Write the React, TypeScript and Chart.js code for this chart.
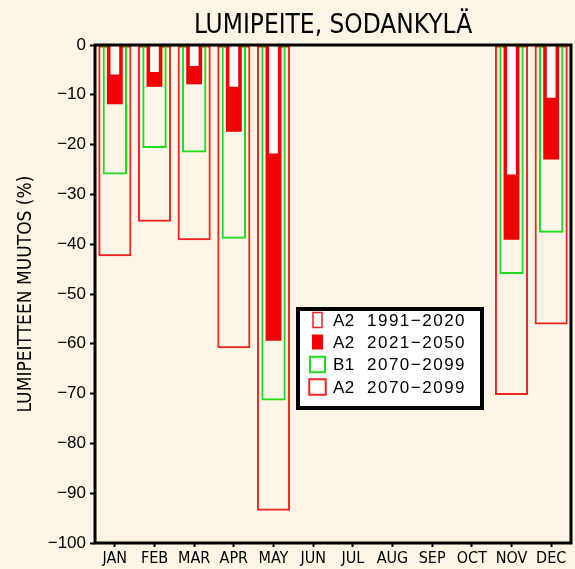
import React, { useEffect, useRef } from "react";
import { Chart, registerables } from "chart.js";

Chart.register(...registerables);

const months = ["JAN", "FEB", "MAR", "APR", "MAY", "JUN", "JUL", "AUG", "SEP", "OCT", "NOV", "DEC"];
const a2Past = [-6.1, -5.6, -4.4, -8.6, -22.0, null, null, null, null, null, -26.2, -10.8];
const a2Mid = [-11.9, -8.4, -7.9, -17.4, -59.4, null, null, null, null, null, -39.1, -23.0];
const b1Late = [-26.0, -20.7, -21.6, -38.9, -71.4, null, null, null, null, null, -46.0, -37.7];
const a2Late = [-42.4, -35.5, -39.2, -60.9, -93.5, null, null, null, null, null, -70.3, -56.1];
const seriesScenario = ["A2", "A2", "B1", "A2"];
const seriesPeriod = ["1991\u22122020", "2021\u22122050", "2070\u22122099", "2070\u22122099"];
const titleText = "LUMIPEITE, SODANKYL\u00c4";
const yTitle = "LUMIPEITTEEN MUUTOS (%)";
const yMin = -100;
const yMax = 0;
const yStep = 10;

const BG = "rgb(253,245,230)";
const RED = "rgb(240,0,0)";
const RED_LINE = "rgb(245,35,35)";
const GREEN = "rgb(30,220,30)";
const NARROW = '"Liberation Sans Narrow", "DejaVu Sans Condensed", "Liberation Sans", sans-serif';
const REG = '"Liberation Sans", "DejaVu Sans", sans-serif';

export default function App() {
  const ref = useRef<HTMLCanvasElement | null>(null);

  useEffect(() => {
    document.body.style.margin = "0";
    document.body.style.background = BG;
    const canvas = ref.current;
    if (!canvas) return;

    const swatches = [
      { w: 9, h: 15, fill: "#ffffff", stroke: RED_LINE, lw: 1.5 },
      { w: 11, h: 15, fill: RED, stroke: null, lw: 0 },
      { w: 15, h: 15.5, fill: "#ffffff", stroke: GREEN, lw: 2 },
      { w: 16.5, h: 15.5, fill: "#ffffff", stroke: RED_LINE, lw: 2 },
    ];

    const decor = {
      id: "decor",
      beforeDraw(chart: any) {
        const ctx = chart.ctx;
        ctx.save();
        ctx.fillStyle = BG;
        ctx.fillRect(0, 0, chart.width, chart.height);
        ctx.restore();
      },
      afterDatasetsDraw(chart: any) {
        const ctx = chart.ctx;
        const a = chart.chartArea;
        ctx.save();
        ctx.strokeStyle = "#000";
        ctx.lineWidth = 3;
        ctx.strokeRect(a.left, a.top, a.right - a.left, a.bottom - a.top);
        // title
        ctx.fillStyle = "#000";
        ctx.font = `26px ${NARROW}`;
        ctx.textAlign = "center";
        ctx.textBaseline = "alphabetic";
        ctx.fillText(titleText, (a.left + a.right) / 2, 33);
        // legend
        ctx.fillStyle = "#fff";
        ctx.fillRect(298, 309, 184, 99);
        ctx.lineWidth = 4;
        ctx.strokeStyle = "#000";
        ctx.strokeRect(298, 309, 184, 99);
        const rowsY = [320, 342, 364.5, 387];
        const cx = 317.5;
        swatches.forEach((s, i) => {
          const y = rowsY[i];
          ctx.fillStyle = s.fill;
          ctx.fillRect(cx - s.w / 2, y - s.h / 2, s.w, s.h);
          if (s.stroke) {
            ctx.strokeStyle = s.stroke;
            ctx.lineWidth = s.lw;
            ctx.strokeRect(cx - s.w / 2, y - s.h / 2, s.w, s.h);
          }
          ctx.fillStyle = "#000";
          ctx.textAlign = "left";
          ctx.textBaseline = "middle";
          ctx.font = `17px ${REG}`;
          (ctx as any).letterSpacing = "0.5px";
          ctx.fillText(seriesScenario[i], 333, y + 1);
          (ctx as any).letterSpacing = "1.5px";
          ctx.fillText(seriesPeriod[i], 367, y + 1);
          (ctx as any).letterSpacing = "0px";
        });
        ctx.restore();
      },
    };

    const chart = new Chart(canvas, {
      type: "bar",
      data: {
        labels: months,
        datasets: [
          {
            label: "A2 1991-2020",
            data: a2Past,
            backgroundColor: "#ffffff",
            borderColor: RED,
            borderWidth: 1,
            barPercentage: 0.27,
            categoryPercentage: 1,
            grouped: false,
          } as any,
          {
            label: "A2 2021-2050",
            data: a2Mid,
            backgroundColor: RED,
            borderWidth: 0,
            barPercentage: 0.4,
            categoryPercentage: 1,
            grouped: false,
          },
          {
            label: "B1 2070-2099",
            data: b1Late,
            backgroundColor: "rgba(0,0,0,0)",
            borderColor: GREEN,
            borderWidth: 2,
            borderSkipped: false,
            barPercentage: 0.615,
            categoryPercentage: 1,
            grouped: false,
          },
          {
            label: "A2 2070-2099",
            data: a2Late,
            backgroundColor: "rgba(0,0,0,0)",
            borderColor: RED_LINE,
            borderWidth: 2,
            borderSkipped: false,
            barPercentage: 0.835,
            categoryPercentage: 1,
            grouped: false,
          },
        ],
      },
      options: {
        animation: false,
        responsive: false,
        maintainAspectRatio: false,
        layout: { padding: { top: 45, right: 4, bottom: 0, left: 0 } },
        plugins: {
          legend: { display: false },
          tooltip: { enabled: false },
          title: { display: false },
        },
        scales: {
          x: {
            afterFit(scale: any) {
              scale.height = 26;
            },
            grid: {
              display: true,
              drawOnChartArea: false,
              drawTicks: true,
              tickLength: 4,
              tickColor: "#000",
              tickWidth: 2,
              offset: false,
            },
            border: { display: false },
            ticks: {
              color: "#000",
              font: { family: NARROW, size: 16 },
              padding: 2,
              maxRotation: 0,
              autoSkip: false,
            },
          },
          y: {
            min: yMin,
            max: yMax,
            afterFit(scale: any) {
              scale.width = 95;
            },
            grid: {
              display: true,
              drawOnChartArea: false,
              drawTicks: true,
              tickLength: 5,
              tickColor: "#000",
              tickWidth: 2,
            },
            border: { display: false },
            ticks: {
              stepSize: yStep,
              color: "#000",
              font: { family: REG, size: 17 },
              padding: 4,
              callback: (v: any) => String(v).replace("-", "\u2212"),
            },
            title: {
              display: true,
              text: yTitle,
              color: "#000",
              font: { family: NARROW, size: 19, lineHeight: 1 },
              padding: { top: 17, bottom: 0 },
            },
          },
        },
      },
      plugins: [decor],
    });

    return () => chart.destroy();
  }, []);

  return (
    <div style={{ position: "absolute", left: 0, top: 0, width: 575, height: 569, background: BG }}>
      <canvas ref={ref} width={575} height={569} style={{ display: "block", width: 575, height: 569 }} />
    </div>
  );
}
